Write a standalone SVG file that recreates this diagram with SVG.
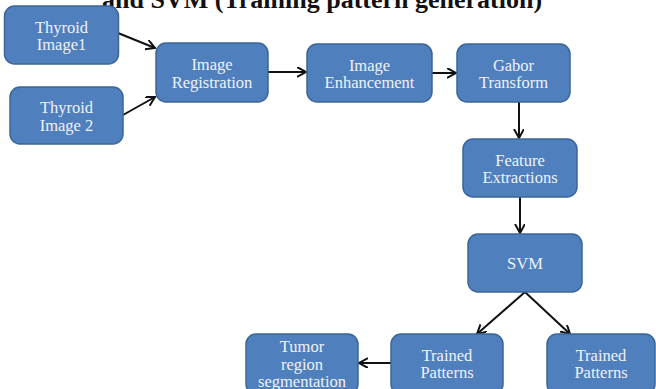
<svg xmlns="http://www.w3.org/2000/svg" width="656" height="389" viewBox="0 0 656 389">
<defs>
<style>
.box{fill:#4f7fbd;stroke:#3b6696;stroke-width:1.5}
.lbl{font-family:"Liberation Serif","Times New Roman",serif;font-size:16.5px;fill:#eef3fa;text-anchor:middle}
.title{font-family:"Liberation Serif","Times New Roman",serif;font-size:26px;font-weight:bold;fill:#111}
.conn{stroke:#111;stroke-width:2;fill:none;marker-end:url(#arr)}
</style>
<marker id="arr" markerUnits="userSpaceOnUse" markerWidth="12" markerHeight="12" refX="9" refY="5" orient="auto">
<path d="M0,0 L9,5 L0,10" fill="none" stroke="#111" stroke-width="2"/>
</marker>
</defs>
<rect width="656" height="389" fill="#fff"/>
<text class="title" x="102" y="8">and SVM (Training pattern generation)</text>
<g id="connectors">
<line class="conn" x1="118" y1="33" x2="155" y2="48"/>
<line class="conn" x1="123" y1="115" x2="155" y2="97"/>
<line class="conn" x1="268" y1="72" x2="306" y2="72"/>
<line class="conn" x1="432" y1="73" x2="456" y2="73"/>
<line class="conn" x1="519" y1="102" x2="519" y2="138"/>
<line class="conn" x1="520" y1="197" x2="520" y2="233"/>
<line class="conn" x1="525" y1="292" x2="477" y2="334"/>
<line class="conn" x1="525" y1="292" x2="570" y2="334"/>
<line class="conn" x1="391" y1="363" x2="359" y2="363"/>
</g>
<g id="thyroid1"><rect class="box" x="4.5" y="6" width="114" height="58" rx="10"/><text class="lbl" x="61.5" y="32.5">Thyroid</text><text class="lbl" x="61.5" y="50">Image1</text></g>
<g id="thyroid2"><rect class="box" x="10" y="87" width="113" height="57" rx="10"/><text class="lbl" x="66.5" y="113">Thyroid</text><text class="lbl" x="66.5" y="130.5">Image 2</text></g>
<g id="registration"><rect class="box" x="156" y="43" width="112" height="59" rx="10"/><text class="lbl" x="212" y="70">Image</text><text class="lbl" x="212" y="87.5">Registration</text></g>
<g id="enhancement"><rect class="box" x="307" y="44" width="125" height="58" rx="10"/><text class="lbl" x="369.5" y="70.5">Image</text><text class="lbl" x="369.5" y="88">Enhancement</text></g>
<g id="gabor"><rect class="box" x="457" y="44" width="113" height="58" rx="10"/><text class="lbl" x="513.5" y="70.5">Gabor</text><text class="lbl" x="513.5" y="88">Transform</text></g>
<g id="feature"><rect class="box" x="463" y="139" width="114" height="58" rx="10"/><text class="lbl" x="520" y="165.5">Feature</text><text class="lbl" x="520" y="183">Extractions</text></g>
<g id="svm"><rect class="box" x="468" y="234" width="114" height="58" rx="10"/><text class="lbl" x="525" y="269">SVM</text></g>
<g id="trained1"><rect class="box" x="391" y="334" width="112" height="60" rx="10"/><text class="lbl" x="447" y="360.5">Trained</text><text class="lbl" x="447" y="378">Patterns</text></g>
<g id="trained2"><rect class="box" x="547" y="334" width="108" height="60" rx="10"/><text class="lbl" x="601" y="360.5">Trained</text><text class="lbl" x="601" y="378">Patterns</text></g>
<g id="tumor"><rect class="box" x="246" y="334" width="112" height="60" rx="10"/><text class="lbl" x="302" y="352">Tumor</text><text class="lbl" x="302" y="369.5">region</text><text class="lbl" x="302" y="387">segmentation</text></g>
</svg>
